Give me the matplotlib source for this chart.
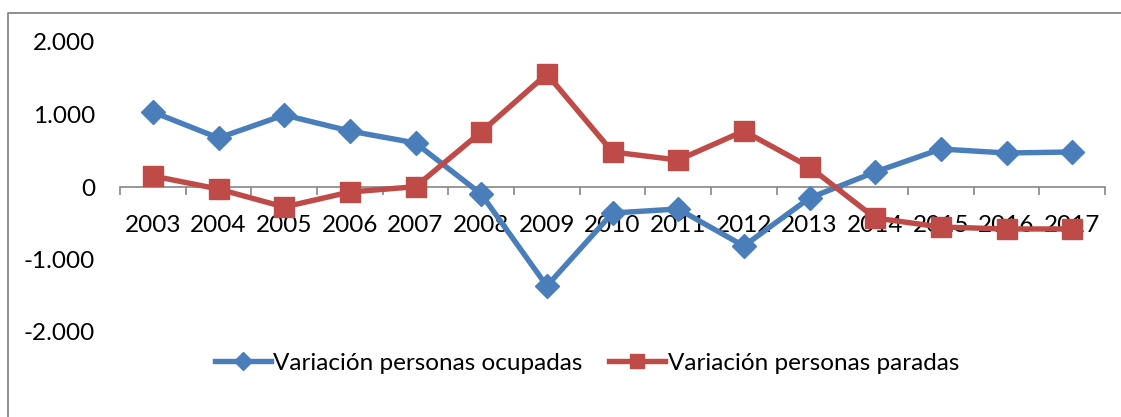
import matplotlib
matplotlib.use("Agg")
import matplotlib.pyplot as plt
from matplotlib.lines import Line2D
import numpy as np

years = ["2003", "2004", "2005", "2006", "2007", "2008", "2009", "2010",
         "2011", "2012", "2013", "2014", "2015", "2016", "2017"]
ocupadas = [1035, 676, 993, 772, 607, -97, -1366, -359, -303, -814, -152,
            207, 524, 469, 483]
paradas = [152, -28, -276, -69, 4, 759, 1559, 483, 372, 772, 276, -428,
           -552, -579, -579]
yticks = [-2000, -1000, 0, 1000, 2000]
ytick_labels = ["-2.000", "-1.000", "0", "1.000", "2.000"]
series_names = ["Variación personas ocupadas", "Variación personas paradas"]

plt.rcParams['font.family'] = ['Lato', 'DejaVu Sans']
FS = 17.5

W, H = 1121, 417
fig = plt.figure(figsize=(W / 100, H / 100), dpi=100)
ax = fig.add_axes([120 / W, 1 - 332 / H, (1105 - 120) / W, (332 - 42) / H])

x = np.arange(len(years))
blue = "#4A7EBB"
red = "#BE4B48"
ax.plot(x, ocupadas, color=blue, lw=3.9, marker="D", ms=12.5,
        label=series_names[0], solid_joinstyle="round", zorder=3)
ax.plot(x, paradas, color=red, lw=3.9, marker="s", ms=14,
        label=series_names[1], solid_joinstyle="round", zorder=3)

ax.set_xlim(-0.5, len(years) - 0.5)
ax.set_ylim(-2000, 2000)
ax.set_yticks(yticks)
ax.set_yticklabels(ytick_labels, fontsize=FS)
ax.tick_params(axis="y", length=0, pad=18)

for s in ["left", "right", "top"]:
    ax.spines[s].set_visible(False)
ax.spines["bottom"].set_position(("data", 0))
ax.spines["bottom"].set_color("#868686")
ax.spines["bottom"].set_linewidth(1.2)

ax.set_xticks(x)
ax.set_xticklabels(years, fontsize=FS)
ax.tick_params(axis="x", length=0, pad=20)
ax.set_xticks(np.arange(len(years) + 1) - 0.5, minor=True)
ax.tick_params(axis="x", which="minor", length=6, width=1.2, color="#868686",
               direction="out")

fig.legend(loc="center", bbox_to_anchor=(587 / W, 1 - 363 / H), ncol=2,
           frameon=False, fontsize=FS, handlelength=2.3, handletextpad=0.1,
           columnspacing=1.1, markerscale=0.7)

# chart frame (left and top edges visible)
fig.add_artist(Line2D([8 / W, 8 / W, 1.0], [0, 1 - 13 / H, 1 - 13 / H],
                      transform=fig.transFigure, color="#868686", lw=1.3))

fig.savefig("out.png", dpi=100)
